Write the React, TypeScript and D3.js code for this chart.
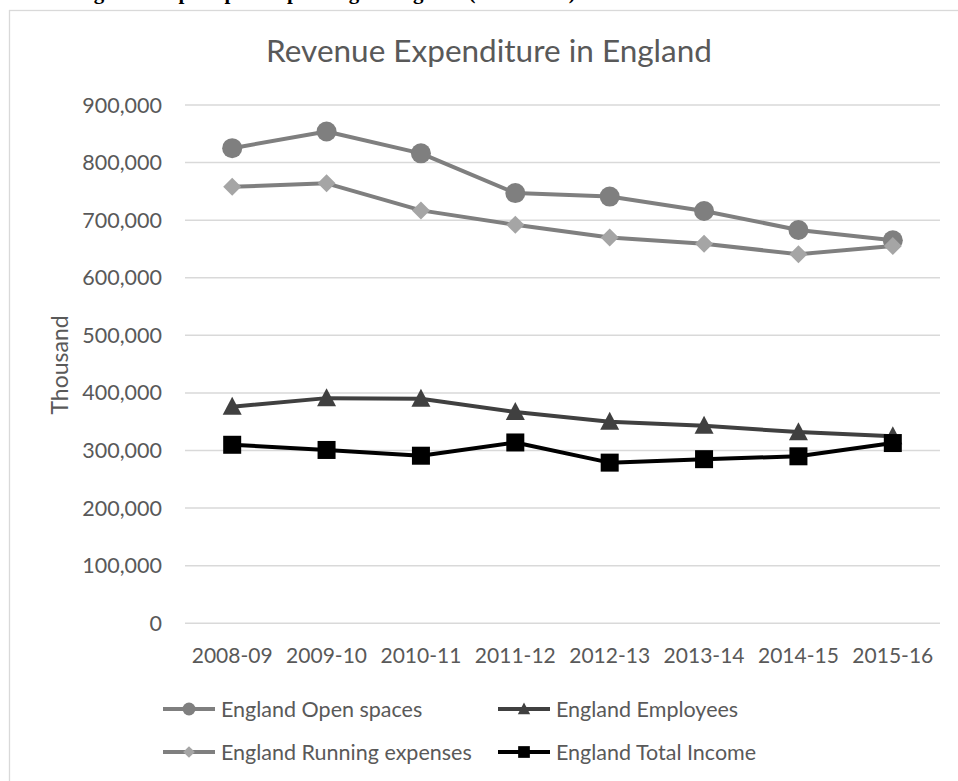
import React from 'react';
import * as d3 from 'd3';

const categories = ['2008-09', '2009-10', '2010-11', '2011-12', '2012-13', '2013-14', '2014-15', '2015-16'];
const openSpaces = [825000, 854000, 816000, 747000, 741000, 716000, 683000, 665000];
const employees = [376000, 391000, 390000, 367000, 350000, 343000, 332000, 325000];
const runningExpenses = [758000, 764000, 717000, 692000, 670000, 659000, 641000, 655000];
const totalIncome = [310000, 301000, 291000, 314000, 279000, 285000, 290000, 313000];
const yTicks = [0, 100000, 200000, 300000, 400000, 500000, 600000, 700000, 800000, 900000];
const seriesNames = ['England Open spaces', 'England Employees', 'England Running expenses', 'England Total Income'];

const W = 958;
const H = 781;
const FONT = 'Lato, "Open Sans", sans-serif';
const TEXT = '#595959';

type Shape = 'circle' | 'triangle' | 'diamond' | 'square';

const series: { name: string; values: number[]; line: string; marker: string; shape: Shape }[] = [
  { name: seriesNames[0], values: openSpaces, line: '#7f7f7f', marker: '#7f7f7f', shape: 'circle' },
  { name: seriesNames[1], values: employees, line: '#404040', marker: '#404040', shape: 'triangle' },
  { name: seriesNames[2], values: runningExpenses, line: '#7f7f7f', marker: '#a5a5a5', shape: 'diamond' },
  { name: seriesNames[3], values: totalIncome, line: '#000000', marker: '#000000', shape: 'square' },
];

function Marker({ shape, cx, cy, s, fill }: { shape: Shape; cx: number; cy: number; s: number; fill: string }) {
  if (shape === 'circle') return <circle cx={cx} cy={cy} r={s} fill={fill} />;
  if (shape === 'square') return <rect x={cx - s} y={cy - s} width={2 * s} height={2 * s} fill={fill} />;
  if (shape === 'diamond') {
    const d = `M${cx},${cy - s}L${cx + s},${cy}L${cx},${cy + s}L${cx - s},${cy}Z`;
    return <path d={d} fill={fill} />;
  }
  const d = `M${cx},${cy - s * 1.05}L${cx + s},${cy + s * 0.85}L${cx - s},${cy + s * 0.85}Z`;
  return <path d={d} fill={fill} />;
}

const markerSize: Record<Shape, number> = { circle: 10, triangle: 9.5, diamond: 9, square: 9 };

export default function App() {
  const x = d3.scalePoint<string>().domain(categories).range([185, 940]).padding(0.5);
  const y = d3.scaleLinear().domain([0, 900000]).range([623.3, 105]);
  const fmt = d3.format(',');
  const line = d3
    .line<number>()
    .x((_, i) => x(categories[i]) as number)
    .y((v) => y(v));

  const legendPos = [
    { lx: 163, ly: 709 },
    { lx: 498, ly: 709 },
    { lx: 163, ly: 752 },
    { lx: 498, ly: 752 },
  ];

  return (
    <svg width={W} height={H} style={{ position: 'absolute', left: 0, top: 0, background: '#fff' }}>
      <rect x={0} y={0} width={W} height={H} fill="#fff" />
      <text x={75} y={-1} fontFamily='"Liberation Serif", "Times New Roman", serif' fontWeight="bold" fontSize={21} fill="#000">
        Figure 1: Open spaces spending in England (£thousand)
      </text>
      <rect x={9.5} y={10.5} width={W + 10} height={H + 10} fill="none" stroke="#d9d9d9" strokeWidth={1.3} />
      <text x={489} y={62} textAnchor="middle" fontFamily={FONT} fontSize={31.5} fill={TEXT}>
        Revenue Expenditure in England
      </text>
      <g>
        {yTicks.map((t) => (
          <g key={t}>
            <line x1={185} x2={940} y1={y(t)} y2={y(t)} stroke="#d9d9d9" strokeWidth={1.5} />
            <text x={162} y={y(t)} dy="0.35em" textAnchor="end" fontFamily={FONT} fontSize={21.5} fill={TEXT}>
              {fmt(t)}
            </text>
          </g>
        ))}
      </g>
      <text
        transform={`translate(68,365) rotate(-90)`}
        textAnchor="middle"
        fontFamily={FONT}
        fontSize={23}
        fill={TEXT}
      >
        Thousand
      </text>
      {categories.map((c) => (
        <text key={c} x={x(c)} y={663} textAnchor="middle" fontFamily={FONT} fontSize={21} fill={TEXT}>
          {c}
        </text>
      ))}
      {series.map((s) => (
        <g key={s.name}>
          <path d={line(s.values) || ''} fill="none" stroke={s.line} strokeWidth={4} strokeLinejoin="round" strokeLinecap="round" />
          {s.values.map((v, i) => (
            <Marker key={i} shape={s.shape} cx={x(categories[i]) as number} cy={y(v)} s={markerSize[s.shape]} fill={s.marker} />
          ))}
        </g>
      ))}
      {series.map((s, i) => {
        const { lx, ly } = legendPos[i];
        return (
          <g key={'leg' + s.name}>
            <line x1={lx} x2={lx + 52} y1={ly} y2={ly} stroke={s.line} strokeWidth={4} />
            <Marker shape={s.shape} cx={lx + 26} cy={ly} s={markerSize[s.shape] * 0.65} fill={s.marker} />
            <text x={lx + 58} y={ly} dy="0.35em" fontFamily={FONT} fontSize={21.5} fill={TEXT}>
              {s.name}
            </text>
          </g>
        );
      })}
    </svg>
  );
}
